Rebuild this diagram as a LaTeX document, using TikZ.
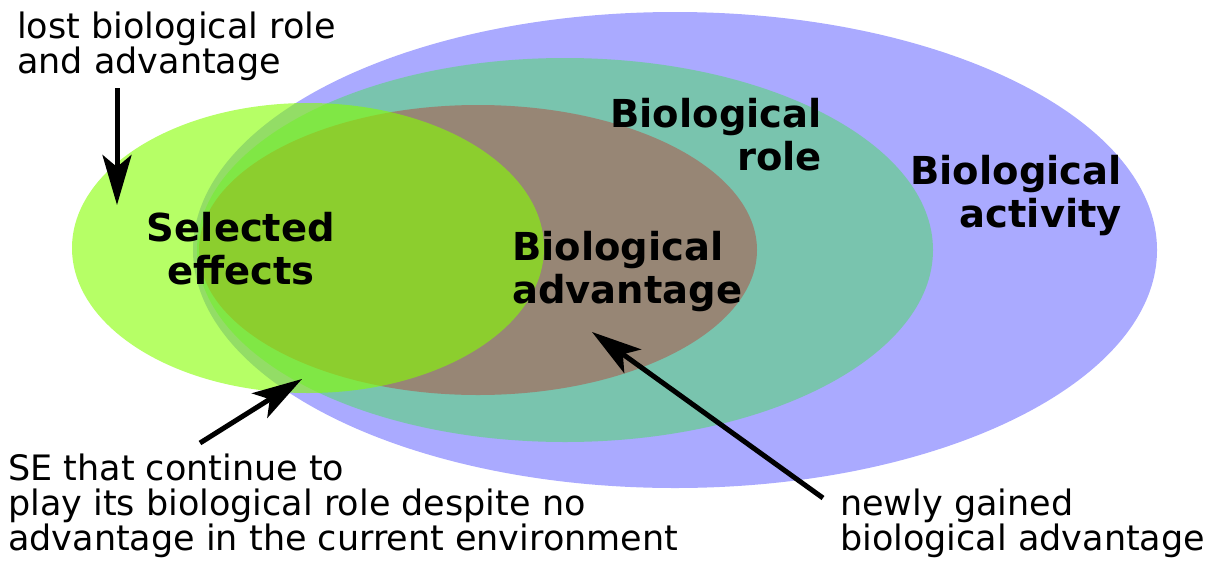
\documentclass[tikz,border=0pt]{standalone}
\usepackage{fontspec}
\setmainfont{DejaVu Sans}
\usetikzlibrary{arrows.meta}
\definecolor{actblue}{HTML}{AAAAFF}
\definecolor{roleteal}{HTML}{79C4AE}
\definecolor{advbrown}{HTML}{978675}
\definecolor{segreen}{HTML}{85FF00}
\tikzset{
  note/.style={inner sep=0pt, anchor=base west, align=left, font=\fontsize{35}{35}\selectfont},
  setlabel/.style={inner sep=0pt, font=\fontsize{38.5}{43}\selectfont\bfseries},
  pointer/.style={line width=5pt, -{Stealth[length=50pt,width=29pt,inset=12pt]}},
}
\begin{document}
\begin{tikzpicture}[x=1pt,y=-1pt]
\useasboundingbox (0,0) rectangle (1220,560);
% sets
\fill[actblue] (675,250) ellipse [x radius=482, y radius=238];
\fill[roleteal] (565,250) ellipse [x radius=368, y radius=192];
\fill[advbrown] (478,250) ellipse [x radius=279, y radius=145];
\fill[segreen, fill opacity=0.6] (308,248) ellipse [x radius=236, y radius=145];
% set labels (anchored at the baseline of the last line)
\node[setlabel, anchor=base, align=center] (se) at (241,284) {Selected\\effects};
\node[setlabel, anchor=base east, align=right] (role) at (822,170) {Biological\\role};
\node[setlabel, anchor=base west, align=left] (adv) at (512,303) {Biological\\advantage};
\node[setlabel, anchor=base east, align=right] (act) at (1122,227) {Biological\\activity};
% notes
\node[note] (lost) at (17,73) {lost biological role\\and advantage};
\node[note] (cont) at (8,550) {SE that continue to\\play its biological role despite no\\advantage in the current environment};
\node[note] (gain) at (840,550) {newly gained\\biological advantage};
% pointers
\coordinate (lostTail) at (117,88);
\coordinate (lostTip) at (117,205);
\coordinate (contTail) at (200,443);
\coordinate (contTip) at (302,379);
\coordinate (gainTail) at (823,498);
\coordinate (gainTip) at (592,332);
\draw[pointer] (lostTail) -- (lostTip);
\draw[pointer] (contTail) -- (contTip);
\draw[pointer] (gainTail) -- (gainTip);
\end{tikzpicture}
\end{document}
